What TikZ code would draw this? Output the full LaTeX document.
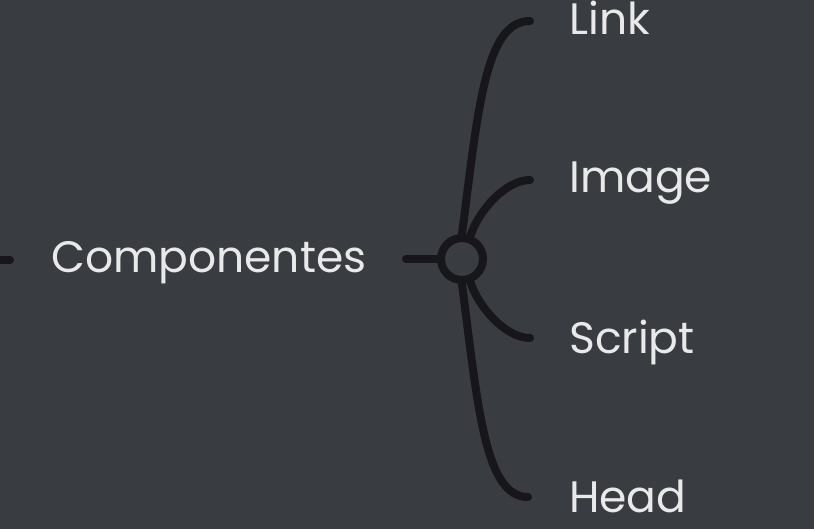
\documentclass[tikz,border=0pt]{standalone}
\usepackage{fontspec}
\setmainfont{Poppins}
\definecolor{bgdark}{HTML}{393C41}
\definecolor{inkline}{HTML}{17171B}
\definecolor{labeltext}{HTML}{E9E9EA}
\tikzset{
  branch/.style={draw=inkline, line width=8pt, line cap=round},
  label/.style={text=labeltext, anchor=base west, inner sep=0pt, font=\fontsize{44}{50}\selectfont}
}
\begin{document}
\begin{tikzpicture}[x=1pt,y=-1pt]

      % Background
      \fill[bgdark] (0,0) rectangle (814,529);
      \useasboundingbox (0,0) rectangle (814,529);

      % Labels
      \node[label] (comp) at (51,273) {Componentes};
      \node[label] (link) at (569,35) {Link};
      \node[label] (image) at (569,193) {Image};
      \node[label] (script) at (569,353) {Script};
      \node[label] (head) at (569,512) {Head};

      % Hub
      \node[circle, draw=inkline, line width=8pt, minimum size=42pt, inner sep=0pt] (hub) at (462,259) {};

      % Branch ends
      \coordinate (linkend) at (530,21);
      \coordinate (imageend) at (530,180);
      \coordinate (scriptend) at (530,338);
      \coordinate (headend) at (528,497);
      \coordinate (leftin) at (-6,260);
      \coordinate (leftout) at (10,260);
      \coordinate (hubin) at (406,259);

      % Stubs
      \draw[branch] (leftin) -- (leftout);
      \draw[branch] (hubin) -- (hub.west);

      % Branches
      \draw[branch] (hub.north) .. controls (478,110) and (485,21) .. (linkend);
      \draw[branch] (hub.70) .. controls (478,212) and (505,180) .. (imageend);
      \draw[branch] (hub.-70) .. controls (478,306) and (505,338) .. (scriptend);
      \draw[branch] (hub.south) .. controls (478,408) and (485,497) .. (headend);

    \end{tikzpicture}
\end{document}
